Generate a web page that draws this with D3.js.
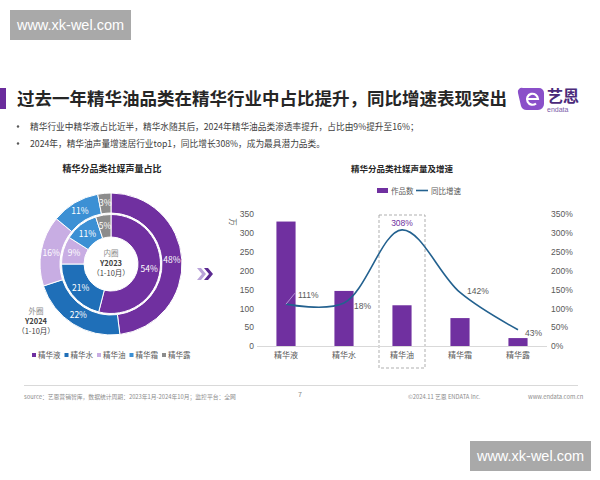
<!DOCTYPE html>
<html><head><meta charset="utf-8">
<script src="https://cdn.jsdelivr.net/npm/d3@7"></script>
<style>
html,body{margin:0;padding:0;background:#fff;}
svg{display:block;font-family:"Noto Sans CJK SC","Noto Sans",sans-serif;}
</style></head>
<body>
<svg id="c" width="600" height="480"></svg>
<script>
// ---------- data ----------
const categories = ["精华液","精华水","精华油","精华霜","精华露"];
const share2024 = [48,22,16,11,3];   // outer ring
const share2023 = [54,21,9,11,5];    // inner ring
const works = [330,146,108,74,21];   // 作品数 (万)
const growth = [111,114,308,142,43]; // 同比增速 (%)
const growthLabels = ["111%","18%","308%","142%","43%"];
const leftTicks = [0,50,100,150,200,250,300,350];
const rightTicks = [0,50,100,150,200,250,300,350];
const colors = ["#7030a0","#1f6fb8","#c8ade3","#3c90d4","#8c8c8c"];

const svg = d3.select("#c");
const gray = "#595959";

// ---------- watermarks ----------
function watermark(x,y){
  svg.append("rect").attr("x",x).attr("y",y).attr("width",121).attr("height",30).attr("fill","#a9a9a9");
  svg.append("text").attr("x",x+60.5).attr("y",y+20).attr("text-anchor","middle")
    .attr("font-family","Liberation Sans, Arial, sans-serif").attr("font-size",14.5).attr("fill","#fff").text("www.xk-wel.com");
}
watermark(10,10);
watermark(470,441);

// ---------- header ----------
svg.append("rect").attr("x",0).attr("y",88).attr("width",6).attr("height",21).attr("fill","#6a2c9c");
svg.append("text").attr("x",17).attr("y",104.5).attr("font-size",17.5).attr("font-weight",700).attr("fill","#262626")
  .text("过去一年精华油品类在精华行业中占比提升，同比增速表现突出");
// logo
const lg = svg.append("g");
lg.append("path").attr("d","M523,88 h16 a5,5 0 0 1 5,5 v11 a6,6 0 0 1 -6,6 h-11 a6,6 0 0 1 -6,-4 l-3,-13 a4,4 0 0 1 5,-5z")
  .attr("fill","#8a4fc9");
lg.append("path").attr("d","M527,99 h11 a5.5,5.5 0 1 0 -2,4.5").attr("fill","none").attr("stroke","#fff").attr("stroke-width",2.2);
lg.append("text").attr("x",547).attr("y",102).attr("font-size",16).attr("font-weight",700).attr("fill","#4b2a7a").text("艺恩");
lg.append("text").attr("x",547).attr("y",112).attr("font-size",7).attr("fill","#7b5aa8").attr("font-family","Liberation Sans, sans-serif").text("endata");

const bullets = [
  "精华行业中精华液占比近半，精华水随其后，2024年精华油品类渗透率提升，占比由9%提升至16%；",
  "2024年，精华油声量增速居行业top1，同比增长308%，成为最具潜力品类。"
];
bullets.forEach((b,i)=>{
  const y = 129.5 + i*17;
  svg.append("circle").attr("cx",18).attr("cy",y-3).attr("r",1.2).attr("fill","#595959");
  svg.append("text").attr("x",30).attr("y",y).attr("font-size",8.7).attr("fill","#404040").text(b);
});

// ---------- donut ----------
svg.append("text").attr("x",112).attr("y",172).attr("text-anchor","middle").attr("font-size",9)
  .attr("font-weight",700).attr("fill","#262626").text("精华分品类社媒声量占比");
const cx=111, cy=264;
const pie = d3.pie().sort(null).value(d=>d);
const dg = svg.append("g").attr("transform",`translate(${cx},${cy})`);
function ring(values, r0, r1, lr){
  const arc = d3.arc().innerRadius(r0).outerRadius(r1);
  const la = d3.arc().innerRadius(lr).outerRadius(lr);
  const arcs = pie(values);
  dg.selectAll(null).data(arcs).enter().append("path").attr("d",arc)
    .attr("fill",(d,i)=>colors[i]).attr("stroke","#fff").attr("stroke-width",1);
  dg.selectAll(null).data(arcs).enter().append("text")
    .attr("transform",d=>`translate(${la.centroid(d)})`).attr("text-anchor","middle").attr("dy","0.35em")
    .attr("font-size",8.5).attr("fill","#fff").text(d=>d.data+"%");
}
ring(share2024, 51, 71, 61);
ring(share2023, 27, 49.5, 38.5);
dg.append("text").attr("y",-8).attr("text-anchor","middle").attr("font-size",7.5).attr("fill","#8c8c8c").text("内圈");
dg.append("text").attr("y",2).attr("text-anchor","middle").attr("font-size",7.5).attr("font-weight",700).attr("fill","#404040").text("Y2023");
dg.append("text").attr("y",12).attr("text-anchor","middle").attr("font-size",7.5).attr("fill","#404040").text("（1-10月）");
svg.append("text").attr("x",36).attr("y",314).attr("text-anchor","middle").attr("font-size",7.5).attr("fill","#8c8c8c").text("外圈");
svg.append("text").attr("x",36).attr("y",324).attr("text-anchor","middle").attr("font-size",7.5).attr("font-weight",700).attr("fill","#404040").text("Y2024");
svg.append("text").attr("x",36).attr("y",334).attr("text-anchor","middle").attr("font-size",7.5).attr("fill","#404040").text("（1-10月）");

// donut legend
const dl = svg.append("g");
let lx = 32;
categories.forEach((c,i)=>{
  dl.append("rect").attr("x",lx).attr("y",353).attr("width",4).attr("height",4).attr("fill",colors[i]);
  dl.append("text").attr("x",lx+6).attr("y",358).attr("font-size",7.5).attr("fill",gray).text(c);
  lx += 32.5;
});

// chevrons
svg.append("path").attr("d","M197,268 l4,0 l5,6 l-5,6 l-4,0 l5,-6z").attr("fill","#b9a3d9");
svg.append("path").attr("d","M204,268 l4,0 l5,6 l-5,6 l-4,0 l5,-6z").attr("fill","#5b2a91");

// ---------- bar + line chart ----------
svg.append("text").attr("x",402).attr("y",172).attr("text-anchor","middle").attr("font-size",8.5)
  .attr("font-weight",700).attr("fill","#262626").text("精华分品类社媒声量及增速");
const x = d3.scaleBand().domain(categories).range([257,547]).paddingInner(0.67).paddingOuter(0.335);
const y = d3.scaleLinear().domain([0,350]).range([346,214]);
const y2 = d3.scaleLinear().domain([0,350]).range([346,214]);

// dashed highlight box
svg.append("rect").attr("x",379).attr("y",215).attr("width",46).attr("height",153)
  .attr("fill","none").attr("stroke","#a6a6a6").attr("stroke-width",0.9).attr("stroke-dasharray","3,2");

// axes
const la = svg.append("g").attr("transform","translate(254,0)")
  .call(d3.axisLeft(y).tickValues(leftTicks).tickSize(0).tickPadding(0));
la.select(".domain").remove();
la.selectAll("text").attr("font-size",8.5).attr("fill",gray).attr("font-family","Liberation Sans, Arial, sans-serif");
const ra = svg.append("g").attr("transform","translate(551,0)")
  .call(d3.axisRight(y2).tickValues(rightTicks).tickSize(0).tickPadding(0).tickFormat(d=>d+"%"));
ra.select(".domain").remove();
ra.selectAll("text").attr("font-size",8.5).attr("fill",gray).attr("font-family","Liberation Sans, Arial, sans-serif");
svg.append("text").attr("transform","translate(230,222) rotate(90)").attr("font-size",7.5).attr("fill",gray)
  .attr("text-anchor","middle").text("万");

svg.append("line").attr("x1",257).attr("x2",547).attr("y1",346.5).attr("y2",346.5).attr("stroke","#d9d9d9");

const xa = svg.append("g").attr("transform","translate(0,347)")
  .call(d3.axisBottom(x).tickSize(0).tickPadding(5));
xa.select(".domain").remove();
xa.selectAll("text").attr("font-size",8).attr("fill",gray).attr("font-family","Noto Sans CJK SC, sans-serif");

// bars
svg.selectAll(null).data(works).enter().append("rect")
  .attr("x",(d,i)=>x(categories[i])).attr("width",x.bandwidth())
  .attr("y",d=>y(d)).attr("height",d=>y(0)-y(d)).attr("fill","#7030a0");

// line
const cxp = i => x(categories[i]) + x.bandwidth()/2;
const line = d3.line().x((d,i)=>cxp(i)).y(d=>y2(d)).curve(d3.curveCatmullRom.alpha(0.5));
svg.append("path").datum(growth).attr("d",line).attr("fill","none").attr("stroke","#23618f").attr("stroke-width",1.6);

// line labels
const offs = [[12,-9,"start"],[10,3,"start"],[0,-7,"middle"],[7,-1,"start"],[7,3,"start"]];
svg.append("line").attr("x1",cxp(0)).attr("y1",y2(growth[0])).attr("x2",cxp(0)+9).attr("y2",y2(growth[0])-11)
  .attr("stroke","#c8ade3").attr("stroke-width",0.8);
growth.forEach((g,i)=>{
  svg.append("text").attr("x",cxp(i)+offs[i][0]).attr("y",y2(g)+offs[i][1]).attr("text-anchor",offs[i][2])
    .attr("dy","0.35em").attr("font-size",8.5).attr("font-family","Liberation Sans, Arial, sans-serif")
    .attr("fill", i===2 ? "#7030a0" : gray).text(growthLabels[i]);
});

// legend
svg.append("rect").attr("x",377).attr("y",188).attr("width",11).attr("height",5).attr("fill","#7030a0");
svg.append("text").attr("x",391).attr("y",193.5).attr("font-size",7.5).attr("fill",gray).text("作品数");
svg.append("line").attr("x1",416).attr("x2",428).attr("y1",190.5).attr("y2",190.5).attr("stroke","#23618f").attr("stroke-width",1.6);
svg.append("text").attr("x",431).attr("y",193.5).attr("font-size",7.5).attr("fill",gray).text("同比增速");

// ---------- footer ----------
svg.append("line").attr("x1",24).attr("x2",578).attr("y1",385.5).attr("y2",385.5).attr("stroke","#d9d9d9");
const ft = (xx,t,anchor)=>svg.append("text").attr("x",xx).attr("y",399).attr("font-size",5.8).attr("fill","#8c8c8c")
  .attr("text-anchor",anchor||"start").text(t);
ft(24,"source：艺恩营销智库，数据统计周期：2023年1月-2024年10月；监控平台：全网");
ft(300,"7","middle").attr("font-size",7).attr("y",397);
ft(408,"©2024.11  艺恩 ENDATA Inc.");
ft(528,"www.endata.com.cn");
</script>
</body></html>
